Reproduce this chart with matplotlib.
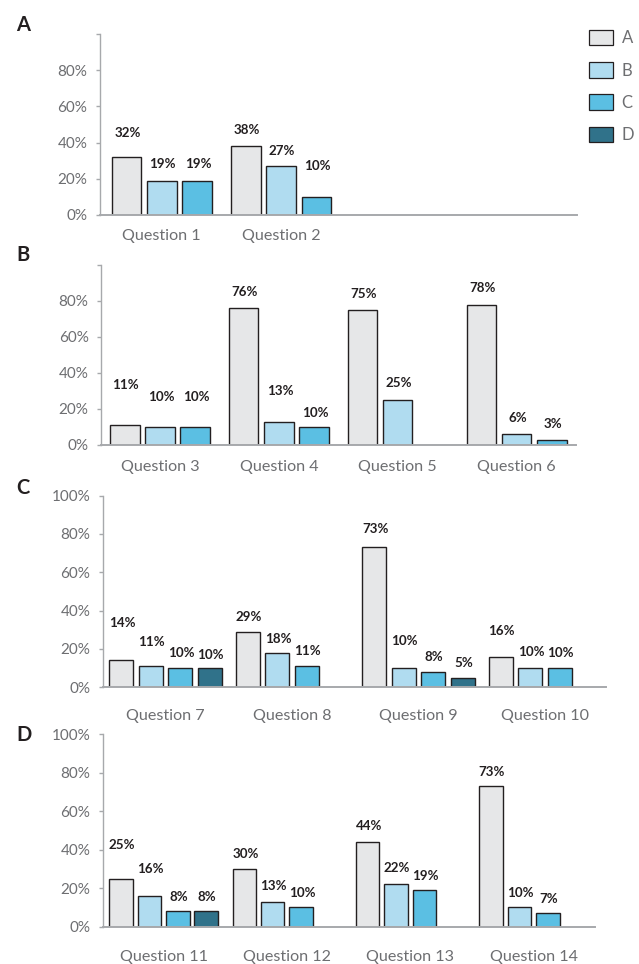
import matplotlib
matplotlib.use("Agg")
import matplotlib.pyplot as plt
import matplotlib.transforms as mtransforms
from matplotlib.patches import Patch
import numpy as np

plt.rcParams['font.family'] = ['Lato', 'DejaVu Sans']

# ---------------- data ----------------
series_names = ['A', 'B', 'C', 'D']
colors = ['#E6E7E8', '#B0DCF0', '#5BBFE3', '#30728A']

panelA_questions = ['Question 1', 'Question 2']
panelA_A = [32, 38]
panelA_B = [19, 27]
panelA_C = [19, 10]
panelA_D = [None, None]

panelB_questions = ['Question 3', 'Question 4', 'Question 5', 'Question 6']
panelB_A = [11, 76, 75, 78]
panelB_B = [10, 13, 25, 6]
panelB_C = [10, 10, None, 3]
panelB_D = [None, None, None, None]

panelC_questions = ['Question 7', 'Question 8', 'Question 9', 'Question 10']
panelC_A = [14, 29, 73, 16]
panelC_B = [11, 18, 10, 10]
panelC_C = [10, 11, 8, 10]
panelC_D = [10, None, 5, None]

panelD_questions = ['Question 11', 'Question 12', 'Question 13', 'Question 14']
panelD_A = [25, 30, 44, 73]
panelD_B = [16, 13, 22, 10]
panelD_C = [8, 10, 19, 7]
panelD_D = [8, None, None, None]

# heights (in %) where the value labels sit
labelsA_y = [[45.4, 46.9], [28.1, 35.5], [28.1, 27.2], [None, None]]
labelsB_y = [[33.3, 85.2, 83.7, 87.0], [26.9, 30.2, 34.3, 14.8],
             [26.6, 18.0, None, 11.7], [None] * 4]
labelsC_y = [[33.7, 36.8, 82.4, 29.5], [23.8, 25.3, 24.3, 18.6],
             [17.7, 19.1, 16.0, 17.7], [16.8, None, 12.8, None]]
labelsD_y = [[42.5, 37.8, 52.5, 80.6], [29.8, 21.2, 30.4, 17.7],
             [15.6, 17.3, 26.4, 14.4], [15.6, None, None, None]]

# ---------------- layout (pixels) ----------------
W, H = 639, 964
DPI = 100
spine_col = '#A7A9AC'
tick_col = '#6D6E71'
text_dark = '#231F20'

panels = [
    dict(letter='A', q=panelA_questions, vals=[panelA_A, panelA_B, panelA_C, panelA_D],
         ly=labelsA_y, left=100, right=577, top=33.75, bottom=215,
         first=111.7, slot=35.3, bw=29.5, spacing=119.3, nslots=3, qpad=21,
         label100=False, letter_xy=(16, 25)),
    dict(letter='B', q=panelB_questions, vals=[panelB_A, panelB_B, panelB_C, panelB_D],
         ly=labelsB_y, left=101, right=576, top=265, bottom=445,
         first=110, slot=35.2, bw=29.5, spacing=118.9, nslots=3, qpad=22,
         label100=False, letter_xy=(16, 255)),
    dict(letter='C', q=panelC_questions, vals=[panelC_A, panelC_B, panelC_C, panelC_D],
         ly=labelsC_y, left=102.7, right=606, top=495.5, bottom=687.3,
         first=109.3, slot=29.5, bw=24, spacing=126.5, nslots=4, qpad=29,
         label100=True, letter_xy=(16, 488)),
    dict(letter='D', q=panelD_questions, vals=[panelD_A, panelD_B, panelD_C, panelD_D],
         ly=labelsD_y, left=102.7, right=595, top=734.3, bottom=926.7,
         first=109.3, slot=28.4, bw=23.5, spacing=123.3, nslots=4, qpad=30,
         label100=True, letter_xy=(16, 735)),
]

fig = plt.figure(figsize=(W / DPI, H / DPI), dpi=DPI)
fig.patch.set_facecolor('white')

for p in panels:
    ax = fig.add_axes([p['left'] / W, 1 - p['bottom'] / H,
                       (p['right'] - p['left']) / W, (p['bottom'] - p['top']) / H])
    ax.set_xlim(0, p['right'] - p['left'])
    ax.set_ylim(0, 100)
    ng = len(p['q'])
    group_starts = (p['first'] - p['left']) + np.arange(ng) * p['spacing']
    for s in range(4):
        vals = p['vals'][s]
        for g in range(ng):
            v = vals[g]
            if v is None:
                continue
            xc = group_starts[g] + s * p['slot'] + p['bw'] / 2
            ax.bar(xc, v, width=p['bw'], color=colors[s], edgecolor=text_dark,
                   linewidth=1.0, zorder=2)
            ly = p['ly'][s][g]
            if ly is not None:
                ax.text(xc + 1, ly, f'{v}%', ha='center', va='center',
                        fontsize=9.6, fontweight='bold', color=text_dark, zorder=4)
    # question labels
    tr = mtransforms.offset_copy(ax.get_xaxis_transform(), fig=fig,
                                 x=0, y=-p['qpad'], units='dots')
    for g in range(ng):
        gc = group_starts[g] + ((p['nslots'] - 1) * p['slot'] + p['bw']) / 2
        ax.text(gc, 0, p['q'][g], transform=tr, ha='center', va='center',
                fontsize=11.6, color=tick_col)
    # axes styling
    for side in ['top', 'right']:
        ax.spines[side].set_visible(False)
    ax.spines['left'].set_color(spine_col)
    ax.spines['left'].set_linewidth(1.0)
    ax.spines['bottom'].set_color(spine_col)
    ax.spines['bottom'].set_linewidth(1.4)
    ax.spines['bottom'].set_zorder(3)
    ax.set_xticks([])
    yt = list(range(0, 101, 20))
    ax.set_yticks(yt)
    ax.set_yticklabels([f'{t}%' if (t < 100 or p['label100']) else '' for t in yt])
    ax.tick_params(axis='y', length=3, width=1.0, color=spine_col, pad=6,
                   labelsize=11, labelcolor=tick_col)
    ax.set_facecolor('none')
    fig.text(p['letter_xy'][0] / W, 1 - p['letter_xy'][1] / H, p['letter'],
             fontsize=14.5, fontweight='bold', color=text_dark,
             ha='left', va='center')

handles = [Patch(facecolor=colors[i], edgecolor=text_dark, linewidth=0.9)
           for i in range(4)]
fig.legend(handles, series_names, loc='upper left',
           bbox_to_anchor=(589 / W, 1 - 30 / H), frameon=False,
           fontsize=12, handlelength=1.45, handleheight=1.05,
           labelspacing=0.95, handletextpad=0.5, borderpad=0, borderaxespad=0,
           labelcolor=tick_col)

fig.savefig('out.png', dpi=DPI, facecolor='white')
